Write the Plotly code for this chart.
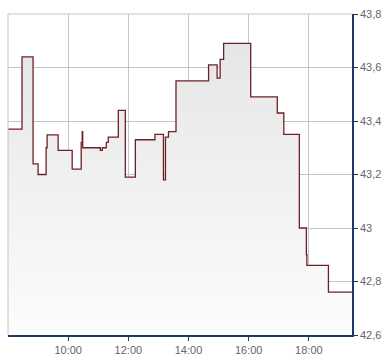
import plotly.graph_objects as go

# step data: time of change, value after change
times = ["08:00", "08:28", "08:50", "09:00", "09:16", "09:18", "09:40", "10:08",
         "10:26", "10:28", "10:29", "11:04", "11:08", "11:16", "11:20", "11:40",
         "11:54", "12:14", "12:53", "13:10", "13:14", "13:20", "13:35", "14:40",
         "14:57", "15:03", "15:10", "16:04", "16:57", "17:10", "17:41", "17:55",
         "17:56", "18:39", "19:26"]
values = [43.37, 43.64, 43.24, 43.20, 43.30, 43.348, 43.29, 43.22,
          43.32, 43.36, 43.30, 43.29, 43.30, 43.32, 43.34, 43.44,
          43.19, 43.33, 43.35, 43.18, 43.34, 43.36, 43.55, 43.61,
          43.56, 43.63, 43.69, 43.49, 43.43, 43.35, 43.00, 42.90,
          42.86, 42.76, 42.76]
y_ticks = [42.6, 42.8, 43.0, 43.2, 43.4, 43.6, 43.8]
x_ticks = ["10:00", "12:00", "14:00", "16:00", "18:00"]
x_range = ["08:00", "19:26"]
y_range = [42.6, 43.8]

day = "2024-01-15 "
xs = [day + t for t in times]

fig = go.Figure()
fig.add_trace(go.Scatter(x=xs, y=[y_range[0]] * len(xs), mode="lines",
                         line=dict(width=0, shape="hv"), hoverinfo="skip",
                         showlegend=False))
fig.add_trace(go.Scatter(
    x=xs, y=values, mode="lines", line=dict(color="#6b2226", width=1.3, shape="hv"),
    fill="tonexty",
    fillgradient=dict(type="vertical",
                      colorscale=[[0, "rgba(252,252,252,1)"], [1, "rgba(230,230,230,1)"]]),
    showlegend=False))

fig.update_layout(
    width=390, height=364,
    margin=dict(l=8, r=38, t=11, b=24),
    paper_bgcolor="white", plot_bgcolor="white",
    separators=",.",
    font=dict(family="Liberation Sans, Arial, sans-serif", size=11, color="#666666"),
    xaxis=dict(type="date", range=[day + x_range[0], day + x_range[1]],
               tickvals=[day + t for t in x_ticks], ticktext=x_ticks,
               showgrid=True, gridcolor="#c4c4c4", gridwidth=1,
               showline=True, linecolor="#1c3966", linewidth=1.5,
               ticks="outside", ticklen=4, tickcolor="#1c3966",
               zeroline=False, fixedrange=True),
    yaxis=dict(range=y_range, side="right", tickvals=y_ticks,
               showgrid=True, gridcolor="#c4c4c4", gridwidth=1,
               showline=True, linecolor="#1c3966", linewidth=1.5,
               ticks="outside", ticklen=4, tickcolor="#1c3966",
               zeroline=False, fixedrange=True),
    shapes=[dict(type="line", xref="paper", yref="paper", x0=0, x1=0, y0=0, y1=1,
                 line=dict(color="#c4c4c4", width=1), layer="above"),
            dict(type="line", xref="paper", yref="paper", x0=0, x1=1, y0=1, y1=1,
                 line=dict(color="#c4c4c4", width=1), layer="below")],
)

fig.write_html("out.html")
